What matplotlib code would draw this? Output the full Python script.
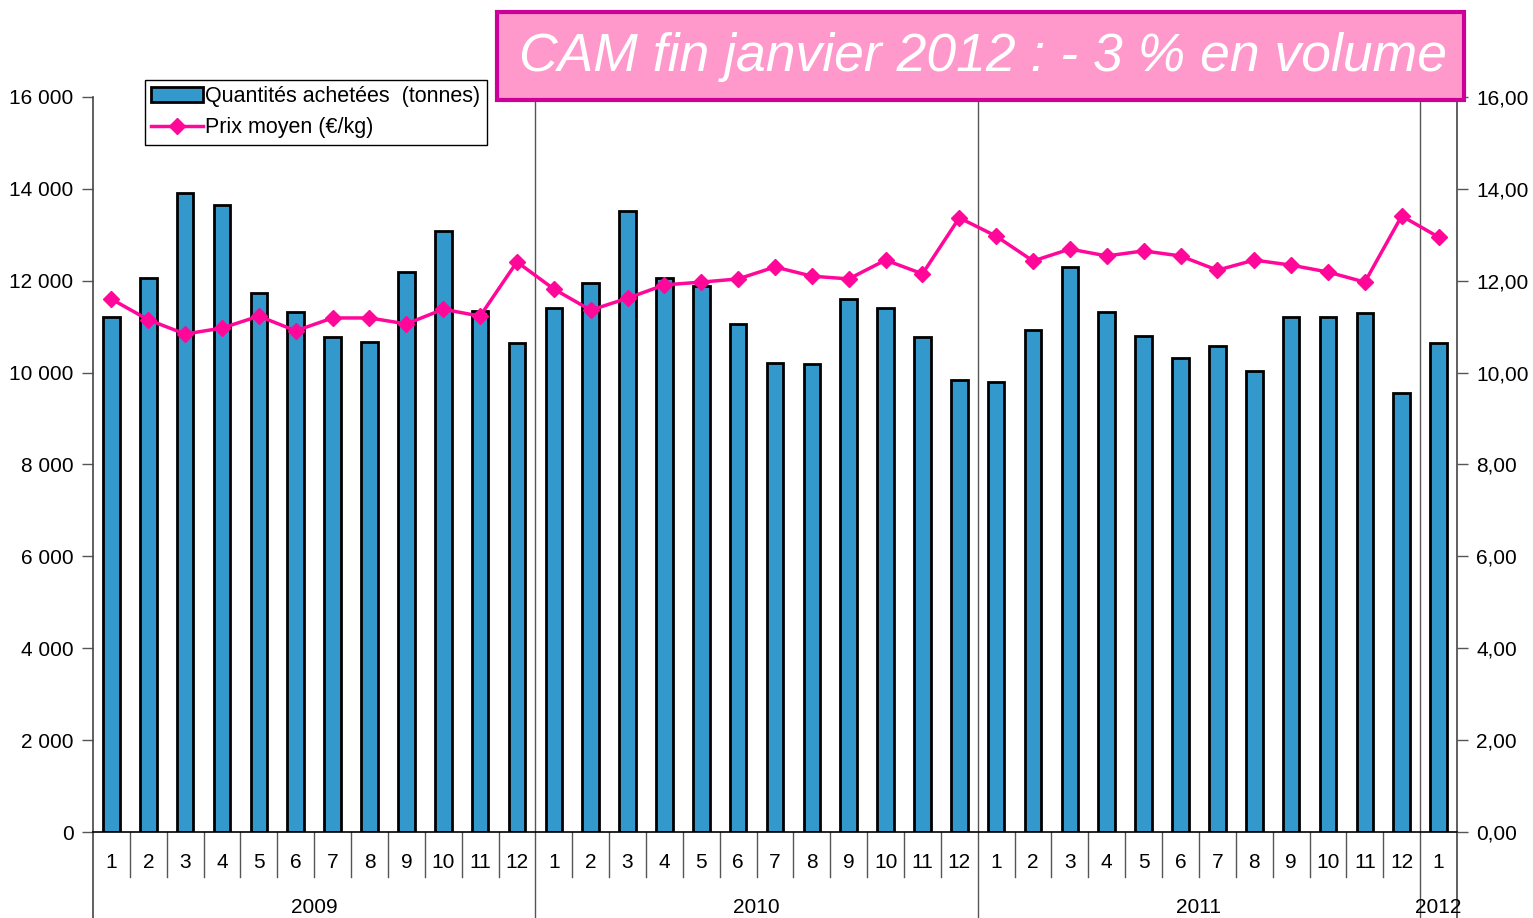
import numpy as np
import matplotlib
matplotlib.use("Agg")
import matplotlib.pyplot as plt
from matplotlib.patches import Patch, Rectangle
from matplotlib.lines import Line2D
import matplotlib.transforms as mtransforms

plt.rcParams['font.family'] = ['Liberation Sans', 'DejaVu Sans']

years = ["2009", "2010", "2011", "2012"]
months_per_year = [12, 12, 12, 1]
month_labels = [str(m) for n in months_per_year for m in range(1, n + 1)]

# quantités achetées (tonnes)
quantites = [11210, 12060, 13910, 13650, 11730, 11320, 10775, 10670, 12190, 13080, 11340, 10640,
             11410, 11950, 13520, 12060, 11890, 11060, 10210, 10190, 11600, 11410, 10775, 9840,
             9800, 10930, 12300, 11320, 10800, 10320, 10580, 10035, 11210, 11210, 11300, 9560,
             10640]
# prix moyen (€/kg)
prix = [11.60, 11.15, 10.84, 10.97, 11.23, 10.91, 11.19, 11.19, 11.06, 11.38, 11.23, 12.41,
        11.82, 11.36, 11.62, 11.91, 11.97, 12.04, 12.30, 12.10, 12.04, 12.45, 12.15, 13.37,
        12.97, 12.43, 12.69, 12.54, 12.65, 12.54, 12.23, 12.45, 12.34, 12.19, 11.97, 13.41,
        12.95]

title = "CAM fin janvier 2012 : - 3 % en volume"

W, H = 1533, 918
fig = plt.figure(figsize=(W / 100, H / 100), dpi=100)
ax = fig.add_axes([93 / W, 1 - 832 / H, (1457 - 93) / W, (832 - 97) / H])
ax2 = ax.twinx()

n = len(quantites)
x = np.arange(n)
ax.bar(x, quantites, width=0.45, color='#3399CC', edgecolor='black', linewidth=2, zorder=3)
ax2.plot(x, prix, color='#FF0899', lw=2.5, marker='D', ms=8, zorder=4)

ax.set_xlim(-0.5, n - 0.5)
ax.set_ylim(0, 16000)
ax2.set_ylim(0, 16)
ax.set_yticks(np.arange(0, 16001, 2000))
ax.set_yticklabels(["{:,}".format(v).replace(",", " ") for v in range(0, 16001, 2000)])
ax2.set_yticks(np.arange(0, 16.1, 2))
ax2.set_yticklabels(["{:.2f}".format(v).replace(".", ",") for v in range(0, 17, 2)])
for a in (ax, ax2):
    a.tick_params(axis='y', labelsize=15, length=8, width=1, color='#555555', pad=6)
    for s in ('top', 'bottom', 'left', 'right'):
        a.spines[s].set_visible(False)
ax.set_xticks([])

# axis lines and category separators
trans = mtransforms.blended_transform_factory(ax.transData, ax.transAxes)
ax.plot([-0.5, n - 0.5], [0, 0], transform=trans, color='black', lw=1.2, clip_on=False, zorder=5)
ax.plot([-0.5, -0.5], [-0.117, 1], transform=trans, color='#444444', lw=1.2, clip_on=False)
ax.plot([n - 0.5, n - 0.5], [-0.117, 1], transform=trans, color='#444444', lw=1.2, clip_on=False)
bounds = np.cumsum(months_per_year)[:-1] - 0.5
for b in np.arange(0.5, n - 0.5):
    if b in bounds:
        ax.plot([b, b], [-0.117, 1], transform=trans, color='#555555', lw=1, clip_on=False, zorder=1)
    else:
        ax.plot([b, b], [-0.061, 0], transform=trans, color='#555555', lw=1, clip_on=False)
for i, lab in enumerate(month_labels):
    ax.text(i, -0.042, lab, transform=trans, ha='center', va='center', fontsize=15)
start = 0
for yr, m in zip(years, months_per_year):
    ax.text(start + (m - 1) / 2, -0.103, yr, transform=trans, ha='center', va='center', fontsize=15)
    start += m

# legend
handles = [Patch(facecolor='#3399CC', edgecolor='black', linewidth=2),
           Line2D([], [], color='#FF0899', lw=2.5, marker='D', ms=8)]
leg = ax2.legend(handles, ["Quantités achetées  (tonnes)", "Prix moyen (€/kg)"],
                 loc='upper left', bbox_to_anchor=(145 / W, 1 - 80 / H), bbox_transform=fig.transFigure,
                 fancybox=False, edgecolor='black', fontsize=15.5, handlelength=2.4,
                 handletextpad=0.1, borderpad=0.3, labelspacing=0.45, borderaxespad=0)
leg.get_frame().set_linewidth(1)
leg.get_frame().set_alpha(1)

# title box
fig.patches.append(Rectangle((497 / W, 1 - 100 / H), (1464 - 497) / W, 88 / H, transform=fig.transFigure,
                             facecolor='#FF99CC', edgecolor='#CC0099', linewidth=3, zorder=10))
fig.text(983 / W, 1 - 57 / H, title, ha='center', va='center', color='white',
         fontsize=38.5, style='italic', zorder=11)

fig.savefig("out.png", dpi=100)
